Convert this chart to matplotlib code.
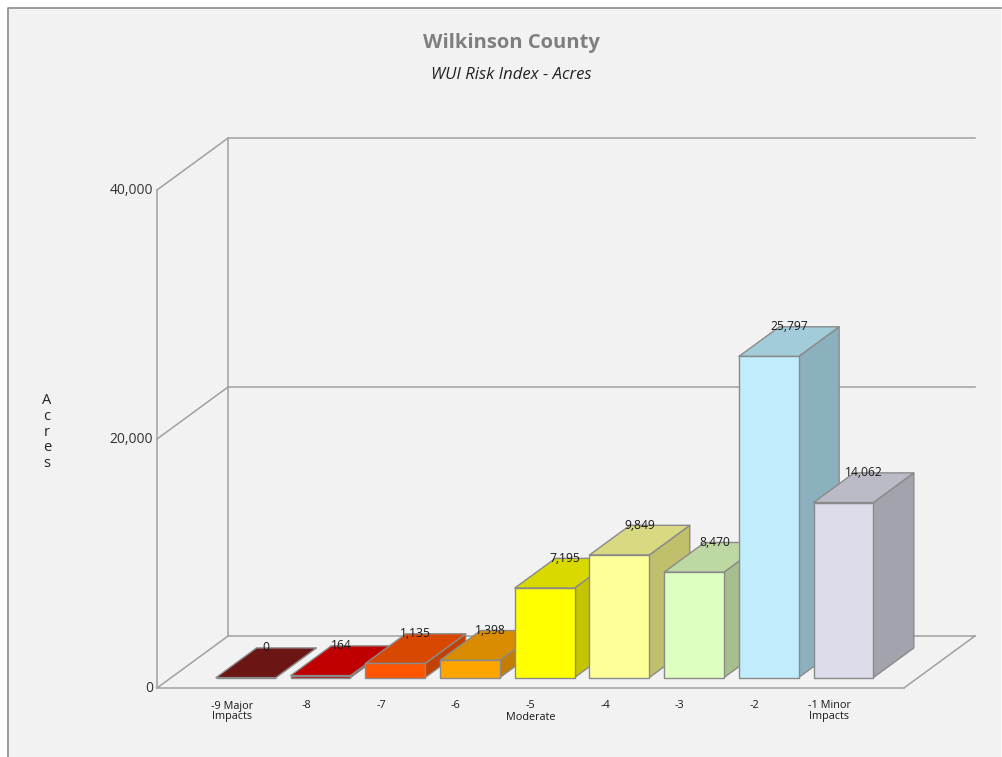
import matplotlib
matplotlib.use("Agg")
import matplotlib.pyplot as plt
from matplotlib.patches import Polygon, Rectangle
from matplotlib.lines import Line2D

plt.rcParams['font.family'] = ['Open Sans', 'DejaVu Sans']

# WUI risk classes and acreage
categories = ["-9 Major\nImpacts", "-8", "-7", "-6", "-5\nModerate", "-4", "-3", "-2", "-1 Minor\nImpacts"]
acres = [0, 164, 1135, 1398, 7195, 9849, 8470, 25797, 14062]
front_colors = ["#6B1515", "#C00000", "#FF5500", "#FFA500", "#FFFF00", "#FFFF99", "#DDFFC0", "#C0ECFB", "#DCDCEA"]
top_colors = ["#6B1515", "#C00000", "#D94800", "#D98C00", "#D9D900", "#D9D982", "#BDD8A2", "#A2CCDA", "#BBBBC7"]
side_colors = ["#5A1010", "#A80000", "#C24000", "#C27D00", "#C4C400", "#C0C06C", "#A7BF8E", "#8BB0BE", "#A3A3AD"]
yticks = [0, 20000, 40000]
ytick_labels = ["0", "20,000", "40,000"]

# depth of the box (x in category units, y in acres) and bar depth span
DX = 0.952
DY = 4180
Z0, Z1 = 0.2, 0.77
BW = 0.8
YMAX = 40000


def proj(x, y, z):
    return (x + z * DX, y + z * DY)


fig = plt.figure(figsize=(10.03, 7.57), dpi=100)
fig.patch.set_facecolor("white")
# grey panel with a frame on its top and left sides
L, T, R = 8 / 1003, 1 - 8 / 757, 1001 / 1003
fig.patches.append(Rectangle((L, 0), R - L, T, transform=fig.transFigure,
                             facecolor="#F2F2F2", edgecolor="none", zorder=-5))
fig.lines.append(Line2D([L, L, R], [0, T, T], transform=fig.transFigure,
                        color="#8A8A8A", linewidth=1.2, zorder=-4))

ax = fig.add_axes([157 / 1003, (757 - 688) / 757, (975 - 157) / 1003, (688 - 138) / 757])
ax.set_zorder(2)
ax.set_xlim(-1, 9 + DX)
ax.set_ylim(0, YMAX + DY)
ax.axis("off")
ax.patch.set_alpha(0)

grid_kw = dict(color="#A0A0A0", linewidth=1.1, zorder=1, clip_on=False)
x_left, x_right = -1, 9
# left wall
ax.add_line(Line2D([x_left, x_left], [0, YMAX], **grid_kw))
ax.add_line(Line2D([x_left + DX, x_left + DX], [DY, YMAX + DY], **grid_kw))
for v in yticks:
    p0 = proj(x_left, v, 0)
    p1 = proj(x_left, v, 1)
    ax.add_line(Line2D([p0[0], p1[0]], [p0[1], p1[1]], **grid_kw))
    # back wall gridline
    b1 = proj(x_right, v, 1)
    ax.add_line(Line2D([p1[0], b1[0]], [p1[1], b1[1]], **grid_kw))
# floor front and right edge
ax.add_line(Line2D([x_left, x_right], [0, 0], **grid_kw))
fr = proj(x_right, 0, 1)
ax.add_line(Line2D([x_right, fr[0]], [0, fr[1]], **grid_kw))

for v, lab in zip(yticks, ytick_labels):
    ax.annotate(lab, (x_left, v), xytext=(-3, 0), textcoords="offset points",
                ha="right", va="center", fontsize=10, color="#333333", annotation_clip=False)

edge = "#8A8A8A"
for i, (val, fc, tc, sc) in enumerate(zip(acres, front_colors, top_colors, side_colors)):
    x0 = i - BW / 2
    x1 = i + BW / 2
    z = 10 + i * 3
    fb0 = proj(x0, 0, Z0)
    fb1 = proj(x1, 0, Z0)
    ft0 = proj(x0, val, Z0)
    ft1 = proj(x1, val, Z0)
    bb1 = proj(x1, 0, Z1)
    bt0 = proj(x0, val, Z1)
    bt1 = proj(x1, val, Z1)
    ax.add_patch(Polygon([fb1, bb1, bt1, ft1], closed=True, facecolor=sc, edgecolor=edge,
                         linewidth=1.0, zorder=z, joinstyle="round"))
    ax.add_patch(Polygon([ft0, ft1, bt1, bt0], closed=True, facecolor=tc, edgecolor=edge,
                         linewidth=1.0, zorder=z + 1, joinstyle="round"))
    ax.add_patch(Polygon([fb0, fb1, ft1, ft0], closed=True, facecolor=fc, edgecolor=edge,
                         linewidth=1.0, zorder=z + 2, joinstyle="round"))
    ly = proj(i, val, Z1)[1]
    lx = proj(i, val, (Z0 + Z1) / 2)[0]
    ax.text(lx, ly, f"{val:,}", ha="center", va="center", fontsize=8.7, color="#1A1A1A", zorder=60)
    ax.annotate(categories[i], (i, 0), xytext=(0, -9), textcoords="offset points",
                ha="center", va="top", fontsize=7.8, color="#1A1A1A", linespacing=1.0,
                annotation_clip=False)

fig.text(511 / 1003, 1 - 43 / 757, "Wilkinson County", ha="center", va="center",
         fontsize=14.5, fontweight="bold", color="#7F7F7F")
fig.text(511 / 1003, 1 - 75 / 757, "WUI Risk Index - Acres", ha="center", va="center",
         fontsize=12, fontstyle="italic", color="#222222")
fig.text(47 / 1003, 1 - 432 / 757, "A\nc\nr\ne\ns", ha="center", va="center",
         fontsize=10.5, color="#222222", linespacing=1.05)

fig.savefig("out.png", dpi=100)
